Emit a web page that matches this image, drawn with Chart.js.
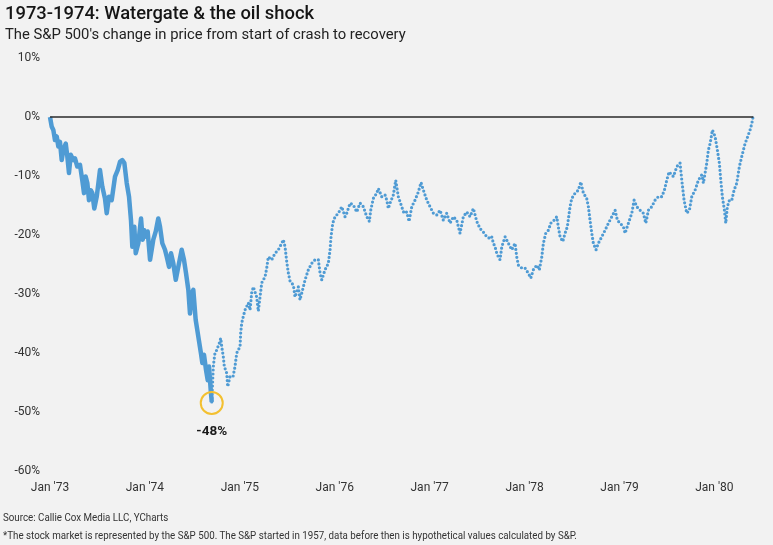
<!DOCTYPE html>
<html>
<head>
<meta charset="utf-8">
<script src="https://cdn.jsdelivr.net/npm/chart.js@4.4.1/dist/chart.umd.min.js"></script>
<style>
  html, body { margin: 0; padding: 0; background: #f2f2f2; }
  #wrap { position: relative; width: 773px; height: 545px; overflow: hidden; }
  #chart { position: absolute; left: 0; top: 0; }
  .title { position: absolute; left: 5px; top: 2px; font-family: Roboto, sans-serif; font-weight: 500; font-size: 18.4px; color: #151515; white-space: nowrap; }
  .subtitle { position: absolute; left: 5px; top: 25px; font-family: Roboto, sans-serif; font-size: 14.8px; color: #222; white-space: nowrap; }
  .note { position: absolute; left: 3px; font-family: Roboto, sans-serif; font-size: 10.5px; color: #333; white-space: nowrap; transform: scaleX(0.93); transform-origin: left top; }
</style>
</head>
<body>
<div id="wrap">
  <canvas id="chart" width="773" height="545"></canvas>
  <div class="title">1973-1974: Watergate &amp; the oil shock</div>
  <div class="subtitle">The S&amp;P 500's change in price from start of crash to recovery</div>
  <div class="note" style="top:511px">Source: Callie Cox Media LLC, YCharts</div>
  <div class="note" style="top:529px">*The stock market is represented by the S&amp;P 500. The S&amp;P started in 1957, data before then is hypothetical values calculated by S&amp;P.</div>
</div>
<script>
// x values are months since Jan '73, y values are % change from the Jan '73 peak
const tickMonths = [0, 12, 24, 36, 48, 60, 72, 84];
const tickLabels = ["Jan '73", "Jan '74", "Jan '75", "Jan '76", "Jan '77", "Jan '78", "Jan '79", "Jan '80"];

// crash: peak to bottom (solid line)
const crashMonths = [0.00, 0.21, 0.42, 0.63, 0.85, 1.05, 1.26, 1.48, 1.68, 1.99, 2.19, 2.40, 2.62, 2.95, 3.16, 3.45,
  3.79, 4.08, 4.30, 4.51, 4.72, 4.93, 5.15, 5.35, 5.60, 5.91, 6.32, 6.61, 6.95, 7.17, 7.46, 7.80, 8.22, 8.56, 8.85,
  9.14, 9.40, 9.70, 9.99, 10.24, 10.41, 10.66, 10.84, 11.17, 11.51, 11.72, 11.92, 12.14, 12.35, 12.65, 12.86, 13.06,
  13.37, 13.69, 13.91, 14.20, 14.54, 14.76, 15.05, 15.30, 15.59, 15.90, 16.22, 16.65, 16.94, 17.20, 17.49, 17.70,
  17.92, 18.12, 18.42, 18.75, 19.09, 19.26, 19.47, 19.73, 19.94, 20.11, 20.32, 20.45];
const crashValues = [0.0, -1.6, -2.2, -3.9, -3.3, -5.0, -4.2, -7.3, -5.6, -4.5, -6.7, -9.5, -6.4, -7.3, -7.0, -8.4,
  -8.1, -10.7, -12.9, -10.1, -11.2, -14.1, -12.4, -12.9, -15.5, -13.5, -9.0, -11.8, -13.8, -16.3, -13.5, -14.1, -10.1,
  -9.0, -7.6, -7.3, -7.8, -11.2, -13.5, -17.5, -22.0, -18.6, -23.1, -21.4, -17.2, -20.8, -19.2, -20.3, -19.4, -24.2,
  -22.5, -20.8, -19.4, -17.2, -18.6, -21.4, -22.5, -23.7, -25.4, -23.1, -24.8, -27.6, -25.4, -22.5, -24.2, -26.5,
  -29.3, -33.3, -29.9, -29.3, -34.4, -37.2, -40.1, -41.7, -40.3, -42.9, -44.6, -42.3, -46.3, -48.3];

// recovery: bottom back to 0% (dotted)
const recoveryMonths = [20.45, 20.57, 20.65, 20.74, 20.86, 21.08, 21.41, 21.59, 21.71, 21.91, 22.04, 22.34, 22.47,
  22.76, 23.14, 23.39, 23.61, 24.03, 24.11, 24.24, 24.44, 24.66, 25.08, 25.29, 25.50, 25.71, 26.13, 26.34, 26.77,
  26.97, 27.19, 27.40, 27.60, 28.03, 28.45, 28.87, 29.30, 29.50, 29.72, 29.93, 30.13, 30.35, 30.77, 30.98, 31.40,
  31.61, 32.03, 32.25, 32.66, 33.09, 33.51, 33.93, 34.14, 34.36, 34.77, 35.19, 35.41, 35.53, 35.75, 36.04, 36.46,
  36.89, 37.30, 37.52, 37.94, 38.35, 38.78, 39.20, 39.62, 40.05, 40.38, 40.55, 40.88, 41.31, 41.51, 41.94, 42.36,
  42.58, 42.78, 42.99, 43.41, 43.71, 43.84, 44.04, 44.47, 44.76, 45.10, 45.40, 45.74, 46.15, 46.57, 46.91, 47.21,
  47.64, 48.05, 48.47, 48.90, 49.32, 49.73, 50.16, 50.58, 51.00, 51.43, 51.84, 52.26, 52.69, 53.11, 53.53, 53.96,
  54.37, 54.79, 55.22, 55.64, 55.85, 56.06, 56.27, 56.49, 56.69, 56.90, 57.12, 57.54, 57.95, 58.38, 58.80, 59.01,
  59.22, 59.65, 60.06, 60.48, 60.79, 61.11, 61.54, 61.87, 62.18, 62.38, 62.68, 63.01, 63.31, 63.73, 64.07, 64.27,
  64.49, 64.83, 65.12, 65.41, 65.75, 65.97, 66.39, 66.80, 67.11, 67.44, 67.86, 68.07, 68.28, 68.50, 68.70, 69.04,
  69.33, 69.76, 70.18, 70.60, 71.03, 71.45, 71.74, 72.08, 72.50, 72.71, 73.13, 73.56, 73.85, 74.19, 74.61, 75.02,
  75.33, 75.66, 76.09, 76.50, 76.92, 77.35, 77.68, 77.98, 78.27, 78.82, 79.25, 79.66, 79.88, 80.17, 80.51, 80.84,
  81.14, 81.56, 81.98, 82.41, 82.61, 83.04, 83.24, 83.46, 83.75, 84.09, 84.38, 84.63, 84.81, 85.01, 85.27, 85.44,
  85.64, 85.90, 86.20, 86.49, 86.83, 87.16, 87.46, 87.88, 88.22, 88.51, 88.73, 88.93];
const recoveryValues = [-48.3, -44.6, -42.3, -41.2, -40.0, -39.5, -38.3, -37.5, -38.9, -40.6, -42.3, -43.4, -45.7,
  -44.0, -44.0, -42.3, -40.0, -38.9, -36.6, -34.9, -33.8, -32.7, -31.5, -32.7, -29.8, -28.8, -30.5, -32.9, -28.1,
  -27.6, -27.1, -25.6, -23.7, -24.2, -23.1, -22.5, -21.4, -20.8, -22.0, -24.5, -26.4, -27.8, -28.5, -30.5, -28.8,
  -31.0, -28.8, -27.6, -25.9, -24.8, -24.2, -24.2, -26.4, -27.6, -25.9, -24.8, -22.5, -20.3, -18.0, -16.9, -16.3,
  -15.2, -16.9, -16.3, -14.6, -14.9, -16.1, -14.6, -15.2, -16.9, -17.7, -15.8, -13.8, -12.9, -12.1, -13.5, -13.2,
  -14.1, -15.5, -14.6, -13.2, -10.7, -11.8, -13.5, -15.2, -16.3, -16.1, -17.7, -15.2, -14.1, -12.7, -11.1, -12.4,
  -14.1, -15.2, -16.3, -16.6, -15.8, -17.5, -16.3, -18.0, -16.9, -17.5, -19.7, -16.9, -16.1, -16.9, -15.5, -17.7,
  -18.9, -19.5, -20.3, -20.6, -20.3, -21.4, -22.0, -23.1, -23.7, -24.2, -22.0, -20.3, -21.4, -22.5, -21.4, -23.7,
  -25.1, -25.6, -25.6, -26.5, -27.3, -25.9, -25.1, -25.9, -23.7, -21.4, -19.7, -19.2, -18.0, -17.5, -16.9, -18.6,
  -20.3, -21.1, -19.7, -18.6, -15.2, -13.8, -12.9, -12.4, -11.0, -12.9, -13.8, -15.2, -17.5, -19.7, -21.4, -22.5,
  -21.4, -20.3, -19.2, -18.0, -16.9, -15.8, -17.5, -18.0, -18.6, -19.7, -18.0, -16.3, -14.1, -15.2, -15.8, -16.3,
  -18.0, -15.8, -15.2, -14.1, -13.5, -13.5, -12.4, -10.7, -9.3, -10.1, -8.4, -7.8, -10.7, -14.1, -16.3, -15.8,
  -13.5, -12.4, -10.7, -9.8, -11.2, -7.8, -5.6, -4.5, -2.2, -3.3, -5.6, -7.8, -10.7, -13.5, -15.8, -18.0,
  -15.2, -14.1, -14.1, -12.4, -11.2, -8.4, -6.7, -4.5, -3.3, -2.2, -1.1, 0.3];

const bottomLabel = '-48%';
const lineBlue = '#4f9bd4';

const toPoints = (xs, ys) => xs.map((x, i) => ({ x, y: ys[i] }));
const zeroLine = [{ x: crashMonths[0], y: 0 }, { x: recoveryMonths[recoveryMonths.length - 1], y: 0 }];

// circle + label round the lowest point of the crash
const bottomMarker = {
  id: 'bottomMarker',
  afterDatasetsDraw(chart) {
    const { ctx, scales } = chart;
    const i = crashValues.indexOf(Math.min(...crashValues));
    const px = scales.x.getPixelForValue(crashMonths[i]);
    const py = scales.y.getPixelForValue(crashValues[i]);
    ctx.save();
    ctx.beginPath();
    ctx.arc(px, py + 1, 11, 0, Math.PI * 2);
    ctx.strokeStyle = '#f3c030';
    ctx.lineWidth = 2;
    ctx.stroke();
    ctx.fillStyle = '#1a1a1a';
    ctx.font = 'bold 13.5px Roboto, sans-serif';
    ctx.textAlign = 'center';
    ctx.textBaseline = 'middle';
    ctx.fillText(bottomLabel, px, py + 30);
    ctx.restore();
  }
};

new Chart(document.getElementById('chart'), {
  type: 'line',
  data: {
    datasets: [
      {
        data: zeroLine,
        borderColor: '#2a2a2a',
        borderWidth: 1.5,
        pointRadius: 0
      },
      {
        data: toPoints(crashMonths, crashValues),
        borderColor: lineBlue,
        borderWidth: 4.5,
        borderJoinStyle: 'round',
        pointRadius: 0
      },
      {
        data: toPoints(recoveryMonths, recoveryValues),
        borderColor: lineBlue,
        borderWidth: 3.2,
        borderDash: [0, 4],
        borderCapStyle: 'round',
        pointRadius: 0
      }
    ]
  },
  options: {
    responsive: false,
    animation: false,
    clip: false,
    layout: { padding: { top: 58, right: 8, bottom: 44, left: 0 } },
    plugins: { legend: { display: false }, tooltip: { enabled: false } },
    scales: {
      x: {
        type: 'linear',
        min: 0,
        max: 90.4,
        grid: { display: false, drawTicks: false },
        border: { display: false },
        afterBuildTicks: scale => { scale.ticks = tickMonths.map(v => ({ value: v })); },
        afterFit: scale => { scale.height = 30; },
        ticks: {
          padding: 10,
          maxRotation: 0,
          color: '#333',
          font: { family: 'Roboto, sans-serif', size: 12 },
          callback: v => tickLabels[tickMonths.indexOf(v)]
        }
      },
      y: {
        min: -60,
        max: 10,
        grid: { display: false, drawTicks: false },
        border: { display: false },
        afterFit: scale => { scale.width = 50; },
        ticks: {
          stepSize: 10,
          padding: 10,
          color: '#333',
          font: { family: 'Roboto, sans-serif', size: 12 },
          callback: v => v + '%'
        }
      }
    }
  },
  plugins: [bottomMarker]
});
</script>
</body>
</html>
